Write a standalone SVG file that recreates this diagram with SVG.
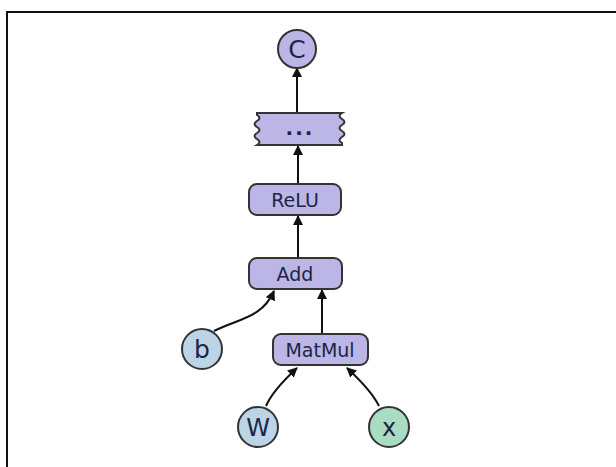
<svg xmlns="http://www.w3.org/2000/svg" width="616" height="467" viewBox="0 0 616 467">
<defs>
<marker id="ah" viewBox="0 0 10 10" refX="9" refY="5" markerWidth="10" markerHeight="10" markerUnits="userSpaceOnUse" orient="auto">
<path d="M0,0 L10,5 L0,10 z" fill="#111"/>
</marker>
<style>
.op{fill:#bbb6e6;stroke:#333;stroke-width:2}
.cb{fill:#bcd4e6;stroke:#333;stroke-width:2}
.cg{fill:#a9dcc3;stroke:#333;stroke-width:2}
.cp{fill:#bbb6e6;stroke:#333;stroke-width:2}
.t{font-family:"DejaVu Sans",sans-serif;fill:#1b2547;text-anchor:middle}
.e{fill:none;stroke:#111;stroke-width:2;marker-end:url(#ah)}
</style>
</defs>
<rect width="616" height="467" fill="#fff"/>
<path d="M7,467 V12 H616" fill="none" stroke="#111" stroke-width="2"/>
<g id="connectors">
<path class="e" d="M297,113 V68"/>
<path class="e" d="M298,184 V146"/>
<path class="e" d="M298,258 V216"/>
<path class="e" d="M322,334 V290"/>
<path class="e" d="M214,331 C240,318 262,318 274,291"/>
<path class="e" d="M266,406 C272,392 284,380 297,368"/>
<path class="e" d="M379,406 C372,392 360,380 347,368"/>
</g>
<g id="C"><circle class="cp" cx="297" cy="49" r="19"/><text class="t" x="297" y="58" font-size="25">C</text></g>
<g id="more"><path class="op" d="M257,113 H342 q-5,3 0,6 q5,3 0,6 q-5,3 0,6 q5,3 0,6 q-5,3 0,6 l0,2 H257 q5,-3 0,-6 q-5,-3 0,-6 q5,-3 0,-6 q-5,-3 0,-6 q5,-3 0,-6 z"/><text class="t" x="300" y="135" font-size="20" font-weight="bold" letter-spacing="2">...</text></g>
<g id="ReLU"><rect class="op" x="249" y="184" width="92" height="31" rx="8"/><text class="t" x="295" y="207" font-size="19">ReLU</text></g>
<g id="Add"><rect class="op" x="249" y="258" width="93" height="31" rx="8"/><text class="t" x="295" y="281" font-size="19">Add</text></g>
<g id="MatMul"><rect class="op" x="273" y="334" width="95" height="31" rx="8"/><text class="t" x="320" y="357" font-size="19">MatMul</text></g>
<g id="b"><circle class="cb" cx="202" cy="349" r="20"/><text class="t" x="202" y="358" font-size="25">b</text></g>
<g id="W"><circle class="cb" cx="258" cy="427" r="20"/><text class="t" x="258" y="436" font-size="24">W</text></g>
<g id="x"><circle class="cg" cx="389" cy="427" r="20"/><text class="t" x="389" y="436" font-size="24">x</text></g>
</svg>
